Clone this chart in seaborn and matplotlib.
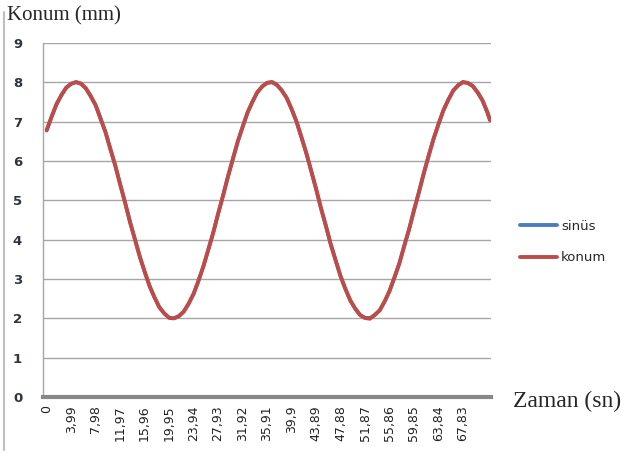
import matplotlib
matplotlib.use("Agg")
import matplotlib.pyplot as plt
import seaborn as sns
import pandas as pd
from matplotlib.lines import Line2D

# time samples (s), every 2nd category of 0.399 s
zaman = [round(0.798 * k, 3) for k in range(91)] + [72.219]

sinus = [6.77, 7.13, 7.43, 7.68, 7.86, 7.97, 8.00, 7.96, 7.84, 7.66,
         7.41, 7.09, 6.73, 6.32, 5.88, 5.42, 4.94, 4.47, 4.01, 3.58,
         3.18, 2.83, 2.53, 2.29, 2.12, 2.02, 2.00, 2.05, 2.18, 2.37,
         2.63, 2.95, 3.33, 3.74, 4.18, 4.65, 5.12, 5.59, 6.05, 6.48,
         6.87, 7.22, 7.51, 7.74, 7.90, 7.98, 8.00, 7.93, 7.80, 7.60,
         7.33, 7.00, 6.62, 6.20, 5.76, 5.29, 4.81, 4.35, 3.89, 3.47,
         3.08, 2.74, 2.46, 2.24, 2.09, 2.01, 2.01, 2.08, 2.21, 2.42,
         2.70, 3.03, 3.40, 3.83, 4.27, 4.74, 5.21, 5.68, 6.14, 6.56,
         6.94, 7.28, 7.56, 7.78, 7.93, 8.00, 7.99, 7.90, 7.75, 7.53,
         7.24, 7.05]

konum = [6.79, 7.12, 7.45, 7.67, 7.87, 7.96, 8.01, 7.97, 7.85, 7.64,
         7.42, 7.07, 6.74, 6.30, 5.89, 5.40, 4.95, 4.45, 4.02, 3.57,
         3.19, 2.82, 2.54, 2.28, 2.13, 2.01, 2.00, 2.06, 2.17, 2.38,
         2.62, 2.96, 3.32, 3.75, 4.17, 4.66, 5.11, 5.60, 6.04, 6.49,
         6.86, 7.23, 7.50, 7.75, 7.89, 7.99, 8.01, 7.94, 7.79, 7.61,
         7.32, 7.01, 6.61, 6.21, 5.75, 5.30, 4.80, 4.36, 3.88, 3.48,
         3.07, 2.75, 2.45, 2.25, 2.08, 2.01, 1.99, 2.09, 2.20, 2.43,
         2.69, 3.04, 3.39, 3.84, 4.26, 4.75, 5.20, 5.69, 6.13, 6.57,
         6.93, 7.29, 7.55, 7.79, 7.92, 8.01, 7.98, 7.91, 7.74, 7.54,
         7.23, 7.04]

tick_vals = [0.399 * 10 * k for k in range(18)]
tick_labels = ["0", "3,99", "7,98", "11,97", "15,96", "19,95", "23,94", "27,93",
               "31,92", "35,91", "39,9", "43,89", "47,88", "51,87", "55,86",
               "59,85", "63,84", "67,83"]
y_ticks = list(range(0, 10))

df = pd.DataFrame({"t": zaman + zaman,
                   "v": sinus + konum,
                   "seri": ["sinüs"] * len(zaman) + ["konum"] * len(zaman)})

sns.set_style("white")
fig = plt.figure(figsize=(6.35, 4.59), dpi=100)
ax = fig.add_axes([43 / 635, 1 - 397 / 459, (491 - 43) / 635, (397 - 43) / 459])

blue = "#4A7EBB"
red = "#BE4B48"
sns.lineplot(data=df[df.seri == "sinüs"], x="t", y="v", ax=ax, color=blue,
             linewidth=2.6, legend=False, zorder=3)
sns.lineplot(data=df[df.seri == "konum"], x="t", y="v", ax=ax, color=red,
             linewidth=2.8, legend=False, zorder=4)

ax.set_xlim(-0.6, 72.4)
ax.set_ylim(0, 9)
ax.set_yticks(y_ticks)
ax.set_yticklabels([str(v) for v in y_ticks], fontsize=9.5, fontweight="bold",
                   color="#2f3440", family="DejaVu Sans")
ax.set_xticks(tick_vals)
ax.set_xticklabels(tick_labels, rotation=90, fontsize=9, color="#222222",
                   family="DejaVu Sans")
ax.tick_params(axis="x", length=0, pad=6)
ax.tick_params(axis="y", length=6, color="#a6a6a6", width=1, pad=9, direction="out")
ax.yaxis.grid(True, color="#a6a6a6", linewidth=1)
ax.xaxis.grid(False)
ax.set_xlabel("")
ax.set_ylabel("")
for s in ["top", "right"]:
    ax.spines[s].set_visible(False)
ax.spines["left"].set_color("#a6a6a6")
ax.spines["left"].set_linewidth(1)
ax.spines["bottom"].set_color("#888888")
ax.spines["bottom"].set_linewidth(3)

fig.text(7 / 635, 1 - 16 / 459, "Konum (mm)", family="Liberation Serif",
         fontsize=15, va="center", ha="left")
fig.text(513 / 635, 1 - 401 / 459, "Zaman (sn)", family="Liberation Serif",
         fontsize=17, va="center", ha="left")

# chart border on the left
fig.add_artist(Line2D([4 / 635, 4 / 635], [1 - 450 / 459, 1 - 12 / 459],
                      transform=fig.transFigure, color="#bfbfbf", linewidth=1.5))

handles = [Line2D([0], [0], color=blue, linewidth=2.8),
           Line2D([0], [0], color=red, linewidth=2.8)]
fig.legend(handles, ["sinüs", "konum"], loc="center left",
           bbox_to_anchor=(520 / 635, 1 - 242 / 459), frameon=False,
           fontsize=9.5, handlelength=2.8, handletextpad=0.3,
           labelspacing=1.4, borderaxespad=0, borderpad=0)

fig.savefig("out.png", dpi=100)
